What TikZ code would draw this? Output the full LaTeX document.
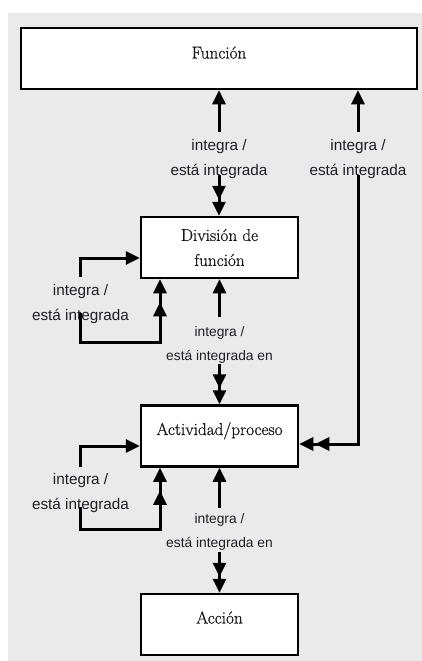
\documentclass[tikz,border=0pt]{standalone}
\usepackage{fontspec}
\newfontfamily\labfont{Liberation Sans}
\newfontfamily\boxfont{Latin Modern Roman}[FakeBold=0.7]
\usetikzlibrary{arrows.meta}
\definecolor{bgc}{RGB}{234,234,234}
\definecolor{ink}{RGB}{25,25,25}
\definecolor{labink}{RGB}{30,30,40}
\begin{document}
\begin{tikzpicture}[x=1pt,y=-1pt,
  boxbase/.style={draw=black, line width=2.5pt, fill=white, minimum width=157pt,
    minimum height=61pt, inner sep=0pt, text=ink, align=center,
    font=\boxfont\fontsize{17.2}{25}\selectfont},
  boxone/.style={boxbase, text height=12pt, text depth=14pt},
  lab/.style={inner sep=0pt, align=center, text=labink, font=\labfont\fontsize{15.3}{25}\selectfont},
  labs/.style={inner sep=0pt, align=center, text=labink, font=\labfont\fontsize{13.8}{24}\selectfont},
  conn/.style={line width=3pt},
  one/.style={conn, -{Triangle[length=14pt,width=13pt]}},
  two/.style={conn, -{Triangle[length=14pt,width=13pt,sep=2pt]Triangle[length=14pt,width=13pt]}},
  twowide/.style={conn, -{Triangle[length=14pt,width=13pt,sep=9pt]Triangle[length=14pt,width=13pt]}},
]
\useasboundingbox (0,0) rectangle (422,661);
\fill[bgc] (8,13) rectangle (422,661);

% boxes
\node[boxone, minimum width=396pt, text height=12pt, text depth=12pt] (fun) at (219,58.5) {Función};
\node[boxbase] (div) at (219.5,247.5) {División de\\función};
\node[boxone] (act) at (219.5,436) {Actividad/proceso};
\node[boxone] (acc) at (219.5,624.5) {Acción};

% labels
\node[lab] (l1) at (219,158.6) {integra /\\está integrada};
\node[lab] (l2) at (358,158.6) {integra /\\está integrada};
\node[lab] (l3) at (80.5,304.1) {integra /\\está integrada};
\node[labs] (l4) at (219.5,345) {integra /\\está integrada en};
\node[lab] (l5) at (80.5,492.6) {integra /\\está integrada};
\node[labs] (l6) at (219.5,532) {integra /\\está integrada en};

\coordinate (c1) at (160,342);
\coordinate (c2) at (160,529);

% Función - División
\draw[one] ([yshift=7pt]l1.north) -- (l1.north |- fun.south);
\draw[two] ([yshift=3pt]l1.south) -- (l1.south |- div.north);

% Función - Actividad (right)
\draw[one] ([yshift=7pt]l2.north) -- (l2.north |- fun.south);
\draw[two] ([yshift=3pt]l2.south) |- ([yshift=-8pt]act.east);

% División self loop
\draw[one] ([yshift=7.5pt]l3.north) |- ([yshift=-10.5pt]div.west);
\draw[twowide] ([yshift=10.7pt]l3.south) |- (c1) -- (c1 |- div.south);

% División - Actividad
\draw[one] ([yshift=9pt]l4.north) -- (l4.north |- div.south);
\draw[two] (l4.south) -- (l4.south |- act.north);

% Actividad self loop
\draw[one] ([yshift=6pt]l5.north) |- ([yshift=-10pt]act.west);
\draw[twowide] ([yshift=5pt]l5.south) |- (c2) -- (c2 |- act.south);

% Actividad - Acción
\draw[one] ([yshift=5.6pt]l6.north) -- (l6.north |- act.south);
\draw[two] ([yshift=-1.6pt]l6.south) -- (l6.south |- acc.north);
\end{tikzpicture}
\end{document}
